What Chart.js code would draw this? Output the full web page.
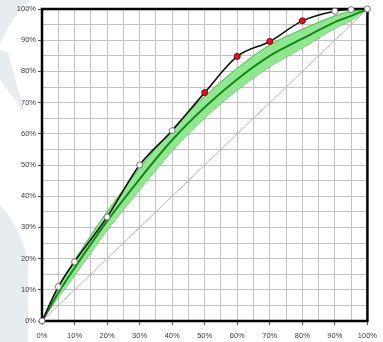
<!DOCTYPE html>
<html>
<head>
<meta charset="utf-8">
<script src="https://cdn.jsdelivr.net/npm/chart.js@4/dist/chart.umd.min.js"></script>
<style>
  html, body { margin: 0; padding: 0; background: #ffffff; }
  #wrap { width: 383px; height: 342px; position: relative; }
</style>
</head>
<body>
<div id="wrap"><canvas id="c" width="383" height="342"></canvas></div>
<script>
// Population share (x, %)
const xs = [0, 5, 10, 20, 30, 40, 50, 60, 70, 80, 90, 95, 100];
// Cumulative gain of the model (%)
const gain = [0, 11, 19, 33.3, 50, 61, 73.2, 84.8, 89.6, 96.2, 99.3, 99.8, 100];
// Points of the gain curve shown in red
const highlighted = [50, 60, 70, 80];
// Expected gain (centre of the band) and band half-width (%)
const expected = [0, 9, 17, 32, 45.5, 58, 68.5, 77.5, 85, 90.5, 95.8, 97.8, 100];
const halfWidth = [0, 1.5, 2.5, 3, 3.5, 3.5, 3.5, 3.5, 3.5, 3, 2, 1.5, 0];
// Random-selection reference
const baseline = [0, 100];
const baselineX = [0, 100];

const pts = (xv, yv) => xv.map((x, i) => ({ x: x, y: yv[i] }));
const lower = expected.map((v, i) => v - halfWidth[i]);
const upper = expected.map((v, i) => v + halfWidth[i]);

const FONT = { family: "'Liberation Sans', Arial, sans-serif", size: 7.5 };

const backdrop = {
  id: 'backdrop',
  beforeDraw(chart) {
    const { ctx, chartArea: a } = chart;
    ctx.save();
    ctx.fillStyle = '#ffffff';
    ctx.fillRect(0, 0, chart.width, chart.height);
    // faint logo shapes in the left margin
    ctx.fillStyle = '#e6ecf0';
    ctx.beginPath();
    ctx.moveTo(0, 0); ctx.lineTo(30, 0);
    ctx.quadraticCurveTo(14, 14, 0, 44);
    ctx.closePath(); ctx.fill();
    ctx.beginPath();
    ctx.moveTo(0, 50); ctx.lineTo(8, 52);
    ctx.lineTo(24, 112); ctx.lineTo(0, 80);
    ctx.closePath(); ctx.fill();
    ctx.beginPath();
    ctx.moveTo(0, 205);
    ctx.quadraticCurveTo(22, 230, 28, 262);
    ctx.lineTo(28, 342); ctx.lineTo(0, 342);
    ctx.closePath(); ctx.fill();
    ctx.fillStyle = '#ffffff';
    ctx.fillRect(a.left, a.top, a.right - a.left, a.bottom - a.top);
    ctx.restore();
  },
  beforeDatasetsDraw(chart) {
    const { ctx, chartArea: a } = chart;
    ctx.save();
    ctx.strokeStyle = '#000000';
    ctx.lineWidth = 2.5;
    ctx.strokeRect(a.left, a.top, a.right - a.left, a.bottom - a.top);
    ctx.restore();
  }
};

const pctLabel = (v) => (v % 10 === 0 ? v + '%' : '');
const tickCol = (c) => (c.tick && c.tick.value % 10 === 0 ? '#555555' : 'rgba(0,0,0,0)');

new Chart(document.getElementById('c'), {
  type: 'line',
  data: {
    datasets: [
      {
        label: 'lower',
        data: pts(xs, lower),
        borderColor: '#3aa53a', borderWidth: 0.8,
        pointRadius: 0, tension: 0.3, fill: false, order: 5
      },
      {
        label: 'upper',
        data: pts(xs, upper),
        borderColor: '#3aa53a', borderWidth: 0.8,
        backgroundColor: '#8fe88f',
        pointRadius: 0, tension: 0.3, fill: '-1', order: 4
      },
      {
        label: 'expected',
        data: pts(xs, expected),
        borderColor: '#138a13', borderWidth: 2,
        pointRadius: 0, tension: 0.3, fill: false, order: 3
      },
      {
        label: 'baseline',
        data: pts(baselineX, baseline),
        borderColor: '#b5b5b5', borderWidth: 1,
        pointRadius: 0, fill: false, order: 6
      },
      {
        label: 'gain',
        data: pts(xs, gain),
        borderColor: '#111111', borderWidth: 1.6,
        cubicInterpolationMode: 'monotone',
        pointRadius: 3,
        pointBorderWidth: 1,
        pointBackgroundColor: xs.map(x => highlighted.includes(x) ? '#e8101a' : '#ffffff'),
        pointBorderColor: xs.map(x => highlighted.includes(x) ? '#8a0000' : '#777777'),
        fill: false, order: 1, clip: false
      }
    ]
  },
  options: {
    responsive: false,
    animation: false,
    layout: { padding: { top: 9, right: 11, left: 0, bottom: 0 } },
    plugins: { legend: { display: false }, tooltip: { enabled: false } },
    scales: {
      x: {
        type: 'linear', min: 0, max: 100,
        afterFit(s) { s.height = 21; },
        border: { display: false },
        grid: { color: '#c2c2c2', lineWidth: 1, tickLength: 4, tickColor: tickCol },
        ticks: { stepSize: 5, autoSkip: false, maxRotation: 0, padding: 6,
                 color: '#3a3a48', font: FONT, callback: pctLabel }
      },
      y: {
        type: 'linear', min: 0, max: 100,
        afterFit(s) { s.width = 42; },
        border: { display: false },
        grid: { color: '#c2c2c2', lineWidth: 1, tickLength: 4, tickColor: tickCol },
        ticks: { stepSize: 5, autoSkip: false, padding: 2,
                 color: '#3a3a48', font: FONT, callback: pctLabel }
      }
    }
  },
  plugins: [backdrop]
});
</script>
</body>
</html>
